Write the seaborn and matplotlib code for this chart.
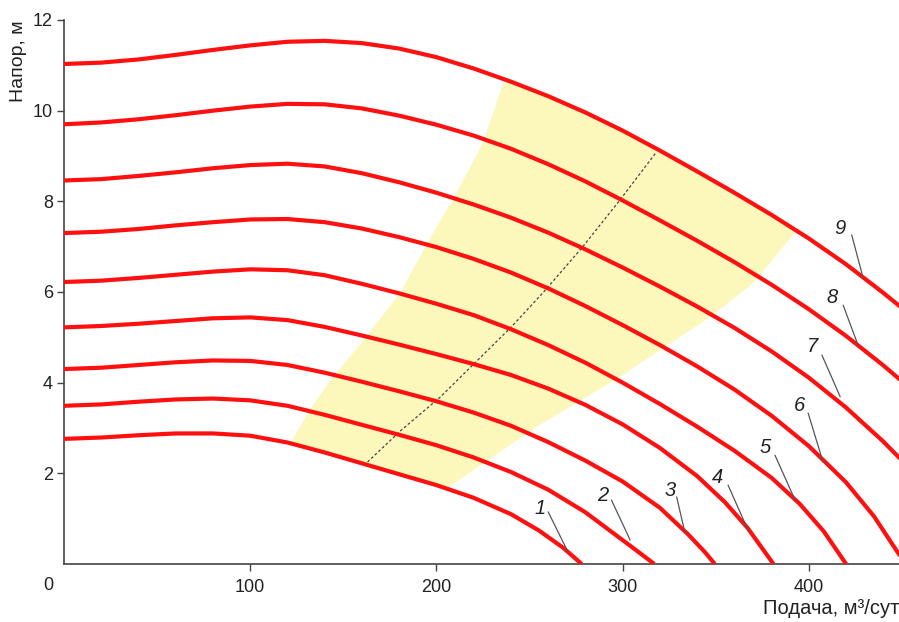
import matplotlib
matplotlib.use("Agg")
import matplotlib.pyplot as plt
import seaborn as sns
import pandas as pd

# ---------------- data ----------------
q1 = [0, 20, 40, 60, 80, 100, 120, 140, 160, 180, 200, 220, 240, 255, 268, 278]
h1 = [2.76, 2.79, 2.84, 2.88, 2.88, 2.83, 2.68, 2.46, 2.22, 1.98, 1.74, 1.46, 1.10, 0.74, 0.36, 0.0]

q2 = [0, 20, 40, 60, 80, 100, 120, 140, 160, 180, 200, 220, 240, 260, 280, 295, 308, 317]
h2 = [3.49, 3.52, 3.58, 3.63, 3.65, 3.61, 3.49, 3.29, 3.07, 2.85, 2.62, 2.35, 2.03, 1.64, 1.14, 0.68, 0.28, 0.0]

q3 = [0, 20, 40, 60, 80, 100, 120, 140, 160, 180, 200, 220, 240, 260, 280, 300, 320, 335, 344, 349.5]
h3 = [4.30, 4.33, 4.39, 4.45, 4.49, 4.48, 4.39, 4.22, 4.02, 3.81, 3.59, 3.34, 3.05, 2.69, 2.28, 1.82, 1.24, 0.66, 0.27, 0.0]

q4 = [0, 20, 40, 60, 80, 100, 120, 140, 160, 180, 200, 220, 240, 260, 280, 300, 320, 340, 355, 367, 381]
h4 = [5.22, 5.25, 5.30, 5.36, 5.42, 5.44, 5.38, 5.23, 5.04, 4.84, 4.63, 4.41, 4.17, 3.87, 3.51, 3.08, 2.56, 1.94, 1.36, 0.80, 0.0]

q5 = [0, 20, 40, 60, 80, 100, 120, 140, 160, 180, 200, 220, 240, 260, 280, 300, 320, 340, 360, 380, 395, 408, 420]
h5 = [6.22, 6.25, 6.31, 6.38, 6.45, 6.50, 6.48, 6.37, 6.18, 5.97, 5.74, 5.49, 5.18, 4.83, 4.44, 4.00, 3.53, 3.03, 2.50, 1.90, 1.33, 0.72, 0.0]

q6 = [0, 20, 40, 60, 80, 100, 120, 140, 160, 180, 200, 220, 240, 260, 280, 300, 320, 340, 360, 380, 400, 420, 435, 447, 452]
h6 = [7.30, 7.33, 7.39, 7.47, 7.54, 7.60, 7.61, 7.54, 7.40, 7.21, 6.99, 6.73, 6.43, 6.08, 5.69, 5.27, 4.83, 4.36, 3.85, 3.27, 2.60, 1.80, 1.05, 0.30, 0.0]

q7 = [0, 20, 40, 60, 80, 100, 120, 140, 160, 180, 200, 220, 240, 260, 280, 300, 320, 340, 360, 380, 400, 420, 440, 452]
h7 = [8.46, 8.49, 8.56, 8.64, 8.73, 8.80, 8.83, 8.77, 8.62, 8.42, 8.19, 7.93, 7.64, 7.31, 6.94, 6.54, 6.12, 5.68, 5.21, 4.69, 4.11, 3.45, 2.70, 2.20]

q8 = [0, 20, 40, 60, 80, 100, 120, 140, 160, 180, 200, 220, 240, 260, 280, 300, 320, 340, 360, 380, 400, 420, 440, 452]
h8 = [9.70, 9.74, 9.81, 9.90, 10.00, 10.09, 10.15, 10.14, 10.05, 9.89, 9.69, 9.45, 9.16, 8.82, 8.44, 8.02, 7.58, 7.13, 6.66, 6.16, 5.62, 5.03, 4.38, 3.96]

q9 = [0, 20, 40, 60, 80, 100, 120, 140, 160, 180, 200, 220, 240, 260, 280, 300, 320, 340, 360, 380, 400, 420, 440, 452]
h9 = [11.03, 11.06, 11.13, 11.23, 11.34, 11.44, 11.52, 11.54, 11.49, 11.37, 11.18, 10.93, 10.64, 10.32, 9.96, 9.56, 9.12, 8.66, 8.19, 7.70, 7.18, 6.61, 5.98, 5.58]

curve_names = ["1", "2", "3", "4", "5", "6", "7", "8", "9"]
curve_q = [q1, q2, q3, q4, q5, q6, q7, q8, q9]
curve_h = [h1, h2, h3, h4, h5, h6, h7, h8, h9]

# recommended working zone (yellow)
zone_left_q = [121, 132, 144.5, 164, 180.5, 197.5, 211, 225, 236]
zone_left_h = [2.62, 3.40, 4.13, 5.10, 5.98, 7.25, 8.20, 9.29, 10.62]
zone_right_q = [394, 370, 347, 298.6, 254, 206]
zone_right_h = [7.38, 6.19, 5.45, 4.13, 3.03, 1.68]

# optimum line (dashed)
opt_q = [163, 181, 202, 221, 240, 258, 278, 298, 318]
opt_h = [2.25, 2.95, 3.68, 4.45, 5.22, 6.02, 6.97, 8.00, 9.08]

# curve labels: text position and leader line (start, end)
lab_text_q = [255.6, 289.5, 325.5, 351.0, 376.5, 395.0, 402.0, 412.5, 416.8]
lab_text_h = [1.23, 1.52, 1.63, 1.90, 2.58, 3.50, 4.79, 5.87, 7.41]
lead_q0 = [260.0, 294.0, 329.0, 356.6, 381.8, 399.6, 407.0, 418.4, 423.0]
lead_h0 = [1.15, 1.41, 1.48, 1.74, 2.40, 3.33, 4.61, 5.71, 7.26]
lead_q1 = [270.7, 304.0, 333.5, 367.3, 392.6, 407.6, 416.8, 426.4, 429.0]
lead_h1 = [0.26, 0.53, 0.68, 0.75, 1.41, 2.25, 3.69, 4.83, 6.33]

x_ticks = [100, 200, 300, 400]
y_ticks = [2, 4, 6, 8, 10, 12]
x_label = "Подача, м³/сут"
y_label = "Напор, м"

# ---------------- styling ----------------
sns.set_theme(style="white")
plt.rcParams["font.family"] = ["Liberation Sans", "DejaVu Sans"]

fig = plt.figure(figsize=(8.99, 6.22), dpi=100)
ax = fig.add_axes([64 / 899, 58 / 622, 835 / 899, 544 / 622])

# yellow zone polygon: bottom along curve 1, top along curve 9
poly_q, poly_h = [], []
poly_q += zone_left_q
poly_h += zone_left_h
for q, h in zip(q9, h9):
    if zone_left_q[-1] < q < zone_right_q[0]:
        poly_q.append(q)
        poly_h.append(h)
poly_q += zone_right_q
poly_h += zone_right_h
for q, h in reversed(list(zip(q1, h1))):
    if zone_left_q[0] < q < zone_right_q[-1]:
        poly_q.append(q)
        poly_h.append(h)
ax.fill(poly_q, poly_h, color="#fcf8bc", lw=0, zorder=1)

# dashed optimum line
sns.lineplot(x=opt_q, y=opt_h, ax=ax, color="#444444", lw=0.9,
             linestyle=(0, (2.2, 1.8)), sort=False, zorder=2)

# pump curves
rows = []
for name, qs, hs in zip(curve_names, curve_q, curve_h):
    for q, h in zip(qs, hs):
        rows.append({"curve": name, "Q": q, "H": h})
df = pd.DataFrame(rows)
sns.lineplot(data=df, x="Q", y="H", units="curve", estimator=None, sort=False,
             color="#ff1010", lw=3.0, ax=ax, zorder=3,
             solid_joinstyle="round", solid_capstyle="butt")

# labels with leader lines
for name, tq, th, a0, b0, a1, b1 in zip(curve_names, lab_text_q, lab_text_h,
                                         lead_q0, lead_h0, lead_q1, lead_h1):
    ax.plot([a0, a1], [b0, b1], color="#555555", lw=0.9, zorder=4)
    ax.text(tq, th, name, fontsize=14.5, fontstyle="italic", color="#222222",
            ha="center", va="center", zorder=5)

ax.set_xlim(0, 448.4)
ax.set_ylim(0, 12)
ax.set_xticks(x_ticks)
ax.set_yticks(y_ticks)
ax.tick_params(axis="both", direction="out", length=5, width=1, color="#444444",
               labelsize=13, labelcolor="#222222", pad=3,
               bottom=True, left=True)
ax.tick_params(axis="x", pad=6)
ax.annotate("0", xy=(0, 0), xycoords="data", xytext=(-16, -21),
            textcoords="offset pixels", ha="center", va="center",
            fontsize=13, color="#222222")

for s in ["top", "right"]:
    ax.spines[s].set_visible(False)
for s in ["left", "bottom"]:
    ax.spines[s].set_color("#444444")
    ax.spines[s].set_linewidth(1.2)

ax.set_xlabel(x_label, fontsize=14.5, color="#222222", ha="right", va="center")
ax.xaxis.set_label_coords(1.0, -45 / 544)
ax.set_ylabel(y_label, loc="top", fontsize=14, color="#222222", labelpad=4)
ax.set_facecolor("white")
ax.grid(False)

fig.savefig("out.png", dpi=100)
